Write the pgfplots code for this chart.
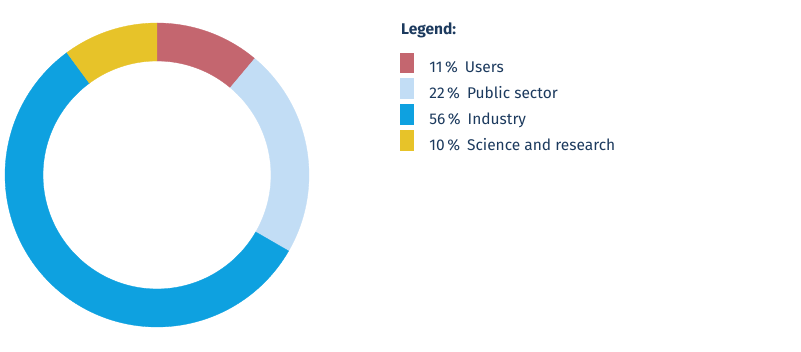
\documentclass[border=0pt]{standalone}
\usepackage{pgfplots}
\pgfplotsset{compat=1.18}
\usepackage{fontspec}
\setmainfont{Fira Sans}
\definecolor{cUsers}{HTML}{C4666F}
\definecolor{cPublic}{HTML}{C2DDF5}
\definecolor{cIndustry}{HTML}{0EA1E0}
\definecolor{cScience}{HTML}{E7C329}
\definecolor{navy}{HTML}{1C3A5E}

% data (percent)
\def\vUsers{11}\def\vPublic{22}\def\vIndustry{56}\def\vScience{10}
\pgfmathsetmacro\tot{\vUsers+\vPublic+\vIndustry+\vScience}
\pgfmathsetmacro\aA{90}
\pgfmathsetmacro\aB{\aA-360*(\vUsers/\tot)}
\pgfmathsetmacro\aC{\aB-360*(\vPublic/\tot)}
\pgfmathsetmacro\aD{\aC-360*(\vIndustry/\tot)}
\pgfmathsetmacro\aE{\aD-360*(\vScience/\tot)}

\newcommand\seg[3]{%
\addplot[fill=#3, draw=#3, line width=0.3pt,
  samples at={0,1,...,100,101,102,...,201}, variable=\t]
 ({157+((\t<=100)?152:114)*cos((\t<=100)?((#1)+((#2)-(#1))*\t/100):((#2)+((#1)-(#2))*(\t-101)/100))},
  {176+((\t<=100)?152:114)*sin((\t<=100)?((#1)+((#2)-(#1))*\t/100):((#2)+((#1)-(#2))*(\t-101)/100))}) -- cycle;}

\begin{document}
\begin{tikzpicture}
\begin{axis}[
  scale only axis, width=801pt, height=351pt,
  xmin=0, xmax=801, ymin=0, ymax=351,
  ticks=none, axis line style={draw=none},
  axis background/.style={fill=white},
  clip=false,
  legend image code/.code={\fill[#1] (0pt,-4.5pt) rectangle (13pt,15pt);},
  legend style={at={(axis description cs:0.4994,0.849)}, anchor=north west,
    draw=none, fill=none, inner sep=0pt, outer sep=0pt,
    row sep=4pt, column sep=16pt,
    nodes={inner sep=0pt, text=navy, font=\fontsize{15.5}{17}\selectfont}},
  legend cell align=left,
]
\seg{\aA}{\aB}{cUsers}
\addlegendentry{11\,\%\hspace{7pt}Users}
\seg{\aB}{\aC}{cPublic}
\addlegendentry{22\,\%\hspace{7pt}Public sector}
\seg{\aC}{\aD}{cIndustry}
\addlegendentry{56\,\%\hspace{7pt}Industry}
\seg{\aD}{\aE}{cScience}
\addlegendentry{10\,\%\hspace{7pt}Science and research}
\node[anchor=base west, text=navy, font=\fontsize{15.5}{17}\selectfont\bfseries, inner sep=0pt] at (axis cs:401,316) {Legend:};
\end{axis}
\end{tikzpicture}
\end{document}
